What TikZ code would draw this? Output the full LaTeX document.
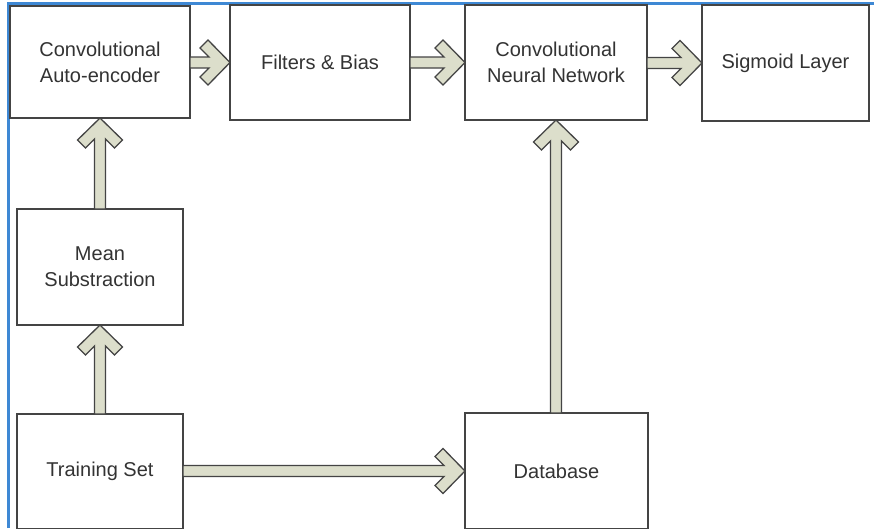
\documentclass[tikz,border=0pt]{standalone}
\usepackage{fontspec}
\setmainfont{Liberation Sans}
\usetikzlibrary{calc}
\definecolor{boxline}{HTML}{444444}
\definecolor{arrowfill}{HTML}{DCDECB}
\definecolor{frameblue}{HTML}{3E88D4}
\definecolor{txt}{HTML}{333333}
\tikzset{
  box/.style={draw=boxline, line width=1.7pt, fill=white, align=center, text=txt,
    font=\fontsize{20}{26}\selectfont, inner sep=0pt, outer sep=0pt},
  blk/.style={draw=boxline, line width=1.3pt, fill=arrowfill, line join=miter},
}
\newcommand{\rblkarrow}[2]{%
  \draw[blk] let \p1=(#1), \p2=(#2) in
  ({\x1},{\y2+5.5pt}) -- ({\x2-21pt},{\y2+5.5pt}) -- ({\x2-30pt},{\y2+14.5pt}) --
  ({\x2-22pt},{\y2+22.5pt}) -- (\x2,\y2) -- ({\x2-22pt},{\y2-22.5pt}) --
  ({\x2-30pt},{\y2-14.5pt}) -- ({\x2-21pt},{\y2-5.5pt}) -- ({\x1},{\y2-5.5pt}) -- cycle;}
\newcommand{\ublkarrow}[2]{%
  \draw[blk] let \p1=(#1), \p2=(#2) in
  ({\x2+5.5pt},{\y1}) -- ({\x2+5.5pt},{\y2-21pt}) -- ({\x2+14.5pt},{\y2-30pt}) --
  ({\x2+22.5pt},{\y2-22pt}) -- (\x2,\y2) -- ({\x2-22.5pt},{\y2-22pt}) --
  ({\x2-14.5pt},{\y2-30pt}) -- ({\x2-5.5pt},{\y2-21pt}) -- ({\x2-5.5pt},{\y1}) -- cycle;}
\begin{document}
\begin{tikzpicture}[x=1pt, y=-1pt]
  \useasboundingbox (0,0) rectangle (874,528);
  \fill[white] (0,0) rectangle (874,528);
  % frame
  \draw[frameblue, line width=2.2pt] (8.5,528) -- (8.5,3.5) -- (874,3.5);
  % boxes
  \node[box, minimum width=180pt, minimum height=112pt] (ae) at (100,62) {Convolutional\\Auto-encoder};
  \node[box, minimum width=180pt, minimum height=115pt] (filt) at (320,62.5) {Filters \& Bias};
  \node[box, minimum width=182pt, minimum height=115pt] (cnn) at (556,62.5) {Convolutional\\Neural Network};
  \node[box, minimum width=167pt, minimum height=116pt] (sig) at (785.5,63) {Sigmoid Layer};
  \node[box, minimum width=166pt, minimum height=116pt] (mean) at (100,267) {Mean\\Substraction};
  \node[box, minimum width=166pt, minimum height=115pt] (train) at (100,471.5) {Training Set};
  \node[box, minimum width=183pt, minimum height=116pt] (db) at (556.5,471) {Database};
  % arrows
  \rblkarrow{ae.east}{filt.west}
  \rblkarrow{filt.east}{cnn.west}
  \rblkarrow{cnn.east}{sig.west}
  \ublkarrow{mean.north}{ae.south}
  \ublkarrow{train.north}{mean.south}
  \rblkarrow{train.east}{db.west}
  \ublkarrow{db.north}{cnn.south}
\end{tikzpicture}
\end{document}
